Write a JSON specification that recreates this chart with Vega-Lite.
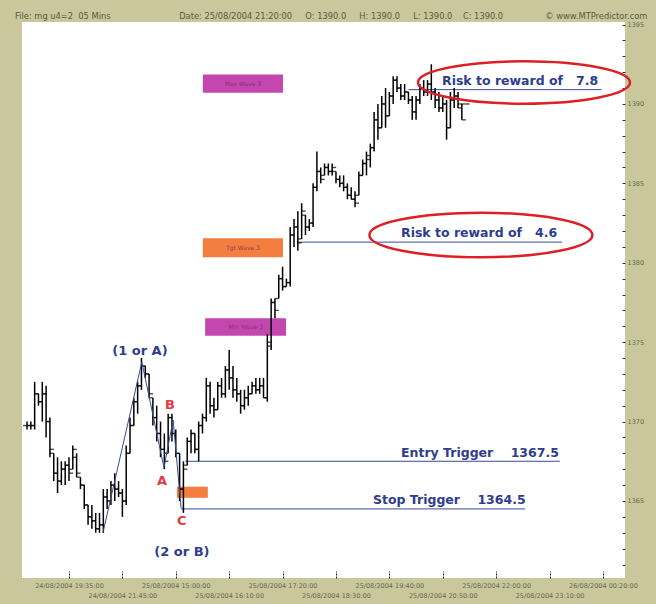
{
  "$schema": "https://vega.github.io/schema/vega-lite/v6.json",
  "width": 603,
  "height": 556,
  "autosize": {"type": "none"},
  "padding": {"left": 22, "top": 22, "right": 31, "bottom": 26},
  "background": "#cac79c",
  "view": {"fill": "white", "stroke": null},
  "title": {
    "text": "File: mg u4=2\u00a0\u00a005 Mins\u00a0\u00a0\u00a0\u00a0\u00a0\u00a0\u00a0\u00a0\u00a0\u00a0\u00a0\u00a0\u00a0\u00a0\u00a0\u00a0\u00a0\u00a0\u00a0\u00a0\u00a0\u00a0\u00a0\u00a0\u00a0\u00a0Date: 25/08/2004 21:20:00\u00a0\u00a0\u00a0\u00a0\u00a0O: 1390.0\u00a0\u00a0\u00a0\u00a0\u00a0H: 1390.0\u00a0\u00a0\u00a0\u00a0\u00a0L: 1390.0\u00a0\u00a0\u00a0\u00a0C: 1390.0\u00a0\u00a0\u00a0\u00a0\u00a0\u00a0\u00a0\u00a0\u00a0\u00a0\u00a0\u00a0\u00a0\u00a0\u00a0\u00a0© www.MTPredictor.com",
    "anchor": "start", "fontSize": 8.3, "font": "DejaVu Sans", "fontWeight": "normal",
    "color": "#5a5a40", "offset": 1, "dx": -7
  },
  "config": {"font": "DejaVu Sans", "axis": {"title": null}},
  "resolve": {"scale": {"color": "independent"}},
  "datasets": {
    "bars": [
      {"k": -11, "o": 1369.75, "h": 1370.0, "l": 1369.5, "c": 1369.75},
      {"k": -10, "o": 1369.75, "h": 1370.0, "l": 1369.5, "c": 1369.75},
      {"k": -9, "o": 1369.75, "h": 1372.5, "l": 1369.5, "c": 1371.75},
      {"k": -8, "o": 1371.75, "h": 1371.75, "l": 1371.0, "c": 1371.25},
      {"k": -7, "o": 1371.25, "h": 1372.5, "l": 1370.0, "c": 1371.75},
      {"k": -6, "o": 1371.75, "h": 1372.25, "l": 1369.0, "c": 1370.0},
      {"k": -5, "o": 1370.0, "h": 1370.25, "l": 1367.75, "c": 1368.25},
      {"k": -4, "o": 1368.0, "h": 1368.0, "l": 1366.25, "c": 1366.75},
      {"k": -3, "o": 1366.75, "h": 1367.75, "l": 1365.5, "c": 1366.25},
      {"k": -2, "o": 1366.25, "h": 1367.5, "l": 1366.0, "c": 1367.0},
      {"k": -1, "o": 1367.0, "h": 1367.5, "l": 1366.0, "c": 1367.25},
      {"k": 0, "o": 1367.25, "h": 1367.75, "l": 1366.25, "c": 1366.75},
      {"k": 1, "o": 1367.0, "h": 1368.5, "l": 1367.0, "c": 1368.25},
      {"k": 2, "o": 1367.75, "h": 1368.0, "l": 1366.5, "c": 1366.75},
      {"k": 3, "o": 1366.5, "h": 1366.5, "l": 1365.75, "c": 1366.0},
      {"k": 4, "o": 1366.0, "h": 1366.0, "l": 1364.5, "c": 1364.75},
      {"k": 5, "o": 1364.75, "h": 1364.75, "l": 1363.5, "c": 1364.0},
      {"k": 6, "o": 1364.0, "h": 1364.75, "l": 1363.25, "c": 1363.75},
      {"k": 7, "o": 1363.75, "h": 1364.25, "l": 1363.0, "c": 1363.25},
      {"k": 8, "o": 1363.25, "h": 1364.25, "l": 1363.0, "c": 1363.5},
      {"k": 9, "o": 1363.5, "h": 1365.75, "l": 1363.0, "c": 1365.25},
      {"k": 10, "o": 1365.25, "h": 1365.75, "l": 1364.5, "c": 1365.0},
      {"k": 11, "o": 1365.0, "h": 1366.25, "l": 1364.75, "c": 1366.0},
      {"k": 12, "o": 1366.0, "h": 1366.75, "l": 1365.0, "c": 1365.75},
      {"k": 13, "o": 1365.75, "h": 1366.25, "l": 1365.25, "c": 1365.5},
      {"k": 14, "o": 1365.5, "h": 1365.75, "l": 1364.0, "c": 1365.0},
      {"k": 15, "o": 1365.0, "h": 1368.5, "l": 1364.75, "c": 1368.0},
      {"k": 16, "o": 1368.0, "h": 1370.25, "l": 1368.0, "c": 1369.75},
      {"k": 17, "o": 1369.75, "h": 1371.5, "l": 1369.75, "c": 1371.25},
      {"k": 18, "o": 1371.25, "h": 1372.5, "l": 1370.5, "c": 1372.25},
      {"k": 19, "o": 1372.25, "h": 1374.0, "l": 1372.0, "c": 1373.5},
      {"k": 20, "o": 1373.5, "h": 1373.5, "l": 1372.75, "c": 1373.0},
      {"k": 21, "o": 1373.0, "h": 1373.0, "l": 1371.5, "c": 1371.75},
      {"k": 22, "o": 1371.5, "h": 1371.5, "l": 1369.75, "c": 1370.25},
      {"k": 23, "o": 1370.25, "h": 1371.0, "l": 1368.75, "c": 1369.25},
      {"k": 24, "o": 1369.25, "h": 1370.0, "l": 1367.75, "c": 1368.25},
      {"k": 25, "o": 1368.25, "h": 1369.25, "l": 1367.0, "c": 1367.5},
      {"k": 26, "o": 1368.0, "h": 1370.5, "l": 1368.0, "c": 1370.25},
      {"k": 27, "o": 1370.25, "h": 1370.5, "l": 1368.75, "c": 1369.25},
      {"k": 28, "o": 1369.25, "h": 1369.5, "l": 1367.75, "c": 1368.0},
      {"k": 29, "o": 1368.0, "h": 1368.0, "l": 1365.0, "c": 1365.75},
      {"k": 30, "o": 1365.75, "h": 1367.5, "l": 1364.25, "c": 1367.0},
      {"k": 31, "o": 1367.25, "h": 1369.0, "l": 1367.25, "c": 1368.75},
      {"k": 32, "o": 1368.75, "h": 1369.5, "l": 1368.0, "c": 1369.25},
      {"k": 33, "o": 1369.25, "h": 1369.25, "l": 1368.0, "c": 1368.25},
      {"k": 34, "o": 1368.25, "h": 1370.0, "l": 1367.5, "c": 1369.75},
      {"k": 35, "o": 1369.75, "h": 1370.5, "l": 1369.25, "c": 1370.25},
      {"k": 36, "o": 1370.25, "h": 1372.75, "l": 1370.0, "c": 1372.25},
      {"k": 37, "o": 1372.25, "h": 1372.5, "l": 1370.5, "c": 1371.0},
      {"k": 38, "o": 1371.0, "h": 1371.5, "l": 1370.25, "c": 1370.75},
      {"k": 39, "o": 1370.75, "h": 1372.5, "l": 1370.75, "c": 1372.25},
      {"k": 40, "o": 1372.25, "h": 1372.75, "l": 1371.5, "c": 1371.75},
      {"k": 41, "o": 1371.75, "h": 1373.5, "l": 1371.5, "c": 1373.25},
      {"k": 42, "o": 1373.25, "h": 1374.5, "l": 1372.0, "c": 1372.75},
      {"k": 43, "o": 1372.75, "h": 1373.5, "l": 1371.5, "c": 1372.0},
      {"k": 44, "o": 1372.0, "h": 1372.75, "l": 1371.25, "c": 1371.75},
      {"k": 45, "o": 1371.75, "h": 1372.0, "l": 1370.5, "c": 1371.0},
      {"k": 46, "o": 1371.0, "h": 1372.0, "l": 1370.75, "c": 1371.5},
      {"k": 47, "o": 1371.5, "h": 1372.25, "l": 1371.0, "c": 1371.75},
      {"k": 48, "o": 1371.75, "h": 1372.5, "l": 1371.75, "c": 1372.25},
      {"k": 49, "o": 1372.25, "h": 1372.75, "l": 1371.75, "c": 1372.0},
      {"k": 50, "o": 1372.0, "h": 1372.75, "l": 1371.75, "c": 1372.25},
      {"k": 51, "o": 1372.25, "h": 1372.75, "l": 1371.5, "c": 1371.5},
      {"k": 52, "o": 1371.5, "h": 1375.5, "l": 1371.25, "c": 1375.0},
      {"k": 53, "o": 1374.75, "h": 1377.75, "l": 1374.5, "c": 1377.5},
      {"k": 54, "o": 1377.5, "h": 1377.75, "l": 1376.5, "c": 1377.0},
      {"k": 55, "o": 1377.75, "h": 1379.25, "l": 1377.75, "c": 1379.0},
      {"k": 56, "o": 1379.0, "h": 1379.75, "l": 1378.25, "c": 1378.5},
      {"k": 57, "o": 1378.5, "h": 1379.0, "l": 1378.5, "c": 1378.75},
      {"k": 58, "o": 1378.75, "h": 1382.25, "l": 1378.5, "c": 1381.75},
      {"k": 59, "o": 1381.75, "h": 1382.75, "l": 1381.0, "c": 1382.25},
      {"k": 60, "o": 1382.25, "h": 1383.25, "l": 1380.75, "c": 1381.25},
      {"k": 61, "o": 1381.5, "h": 1383.75, "l": 1381.5, "c": 1383.25},
      {"k": 62, "o": 1383.0, "h": 1383.0, "l": 1381.75, "c": 1382.25},
      {"k": 63, "o": 1382.25, "h": 1382.75, "l": 1382.0, "c": 1382.5},
      {"k": 64, "o": 1382.5, "h": 1385.0, "l": 1382.25, "c": 1384.75},
      {"k": 65, "o": 1384.75, "h": 1387.0, "l": 1384.5, "c": 1385.75},
      {"k": 66, "o": 1385.75, "h": 1386.0, "l": 1385.0, "c": 1385.25},
      {"k": 67, "o": 1385.5, "h": 1386.25, "l": 1385.5, "c": 1386.0},
      {"k": 68, "o": 1386.0, "h": 1386.25, "l": 1385.5, "c": 1385.75},
      {"k": 69, "o": 1385.75, "h": 1386.25, "l": 1385.5, "c": 1386.0},
      {"k": 70, "o": 1385.75, "h": 1385.75, "l": 1385.0, "c": 1385.25},
      {"k": 71, "o": 1385.25, "h": 1385.5, "l": 1384.75, "c": 1385.0},
      {"k": 72, "o": 1385.0, "h": 1385.5, "l": 1384.5, "c": 1384.75},
      {"k": 73, "o": 1384.75, "h": 1385.0, "l": 1384.0, "c": 1384.25},
      {"k": 74, "o": 1384.25, "h": 1384.75, "l": 1384.0, "c": 1384.0},
      {"k": 75, "o": 1384.0, "h": 1384.5, "l": 1383.5, "c": 1383.75},
      {"k": 76, "o": 1384.25, "h": 1385.75, "l": 1384.25, "c": 1385.5},
      {"k": 77, "o": 1385.5, "h": 1386.5, "l": 1385.5, "c": 1386.25},
      {"k": 78, "o": 1386.25, "h": 1387.0, "l": 1385.5, "c": 1386.75},
      {"k": 79, "o": 1386.5, "h": 1387.5, "l": 1386.0, "c": 1387.25},
      {"k": 80, "o": 1387.25, "h": 1389.5, "l": 1387.0, "c": 1389.0},
      {"k": 81, "o": 1389.0, "h": 1390.0, "l": 1387.75, "c": 1388.5},
      {"k": 82, "o": 1388.5, "h": 1390.5, "l": 1388.5, "c": 1390.0},
      {"k": 83, "o": 1390.0, "h": 1391.0, "l": 1388.5, "c": 1389.25},
      {"k": 84, "o": 1389.25, "h": 1390.75, "l": 1389.25, "c": 1390.5},
      {"k": 85, "o": 1390.5, "h": 1391.75, "l": 1390.0, "c": 1391.5},
      {"k": 86, "o": 1391.5, "h": 1391.75, "l": 1390.75, "c": 1391.0},
      {"k": 87, "o": 1391.0, "h": 1391.25, "l": 1390.25, "c": 1390.5},
      {"k": 88, "o": 1390.5, "h": 1391.25, "l": 1390.25, "c": 1390.75},
      {"k": 89, "o": 1390.75, "h": 1390.75, "l": 1390.0, "c": 1390.25},
      {"k": 90, "o": 1390.25, "h": 1390.5, "l": 1389.0, "c": 1389.5},
      {"k": 91, "o": 1389.5, "h": 1390.5, "l": 1389.0, "c": 1390.25},
      {"k": 92, "o": 1390.25, "h": 1391.25, "l": 1390.0, "c": 1391.0},
      {"k": 93, "o": 1391.0, "h": 1391.5, "l": 1390.5, "c": 1390.75},
      {"k": 94, "o": 1390.75, "h": 1391.5, "l": 1390.5, "c": 1391.25},
      {"k": 95, "o": 1391.25, "h": 1392.5, "l": 1390.25, "c": 1390.75},
      {"k": 96, "o": 1390.75, "h": 1391.0, "l": 1389.75, "c": 1390.25},
      {"k": 97, "o": 1390.25, "h": 1390.75, "l": 1389.5, "c": 1389.75},
      {"k": 98, "o": 1389.75, "h": 1390.5, "l": 1389.5, "c": 1390.0},
      {"k": 99, "o": 1390.0, "h": 1390.25, "l": 1387.75, "c": 1388.5},
      {"k": 100, "o": 1388.5, "h": 1390.75, "l": 1388.5, "c": 1390.25},
      {"k": 101, "o": 1390.25, "h": 1391.0, "l": 1389.75, "c": 1390.5},
      {"k": 102, "o": 1390.5, "h": 1390.75, "l": 1389.75, "c": 1390.0},
      {"k": 103, "o": 1389.75, "h": 1390.0, "l": 1389.0, "c": 1389.0},
      {"k": 104, "o": 1390.0, "h": 1390.0, "l": 1390.0, "c": 1390.0}
    ],
    "levels": [
      {"name": "entry", "k1": 30.5, "k2": 128.7, "p": 1367.5},
      {"name": "stop", "k1": 29.3, "k2": 119.6, "p": 1364.5},
      {"name": "rr46", "k1": 59.7, "k2": 129.3, "p": 1381.3},
      {"name": "rr78", "k1": 89, "k2": 139.6, "p": 1390.9}
    ],
    "wave": [
      {"i": 0, "k": 8.9, "p": 1363.0},
      {"i": 1, "k": 19.1, "p": 1373.75},
      {"i": 2, "k": 24.9, "p": 1367.1},
      {"i": 3, "k": 27.3, "p": 1370.1},
      {"i": 4, "k": 29.4, "p": 1364.55}
    ],
    "boxes": [
      {"kind": "max", "k1": 35.1, "k2": 56.1, "p1": 1390.7, "p2": 1391.85, "tk": 45.6, "tp": 1391.27, "text": "Max Wave 3"},
      {"kind": "tgt", "k1": 35.1, "k2": 56.1, "p1": 1380.35, "p2": 1381.55, "tk": 45.6, "tp": 1380.95, "text": "Tgt Wave 3"},
      {"kind": "max", "k1": 35.7, "k2": 56.9, "p1": 1375.4, "p2": 1376.5, "tk": 46.3, "tp": 1375.95, "text": "Min Wave 3"},
      {"kind": "tgt", "k1": 28.3, "k2": 36.4, "p1": 1365.2, "p2": 1365.9, "tk": 32.3, "tp": 1365.55, "text": ""}
    ],
    "marks": [
      {"kind": "wave", "k": 18.6, "p": 1374.45, "text": "(1 or A)"},
      {"kind": "wave", "k": 29.6, "p": 1361.8, "text": "(2 or B)"},
      {"kind": "letter", "k": 26.5, "p": 1371.05, "text": "B"},
      {"kind": "letter", "k": 24.4, "p": 1366.26, "text": "A"},
      {"kind": "letter", "k": 29.6, "p": 1363.74, "text": "C"}
    ],
    "notes": [
      {"k": 87.05, "p": 1368.02, "text": "Entry Trigger\u00a0\u00a0\u00a0\u00a01367.5"},
      {"k": 79.7, "p": 1365.06, "text": "Stop Trigger\u00a0\u00a0\u00a0\u00a01364.5"},
      {"k": 87.05, "p": 1381.88, "text": "Risk to reward of\u00a0\u00a0\u00a04.6"},
      {"k": 97.8, "p": 1391.45, "text": "Risk to reward of\u00a0\u00a0\u00a07.8"}
    ],
    "rings": [
      {"name": "rr78", "k": 119.3, "p": 1391.35},
      {"name": "rr46", "k": 108.0, "p": 1381.75}
    ]
  },
  "layer": [
    {
      "data": {"name": "boxes"},
      "mark": {"type": "rect"},
      "encoding": {
        "x": {"field": "k1", "type": "quantitative", "scale": {"domain": [-12.32, 145.78], "nice": false, "zero": false},
          "axis": {"orient": "bottom", "values": [0, 14, 28, 42, 56, 70, 84, 98, 112, 126, 140], "tickCount": 100,
            "labelExpr": "(round(datum.value/14) % 2 == 0) ? ['24/08/2004 19:35:00','24/08/2004 21:45:00','25/08/2004 15:00:00','25/08/2004 16:10:00','25/08/2004 17:20:00','25/08/2004 18:30:00','25/08/2004 19:40:00','25/08/2004 20:50:00','25/08/2004 22:00:00','25/08/2004 23:10:00','26/08/2004 00:20:00'][round(datum.value/14)] : ['', ['24/08/2004 19:35:00','24/08/2004 21:45:00','25/08/2004 15:00:00','25/08/2004 16:10:00','25/08/2004 17:20:00','25/08/2004 18:30:00','25/08/2004 19:40:00','25/08/2004 20:50:00','25/08/2004 22:00:00','25/08/2004 23:10:00','26/08/2004 00:20:00'][round(datum.value/14)]]",
            "title": null, "grid": false, "domain": false, "tickSize": -7, "tickColor": "#222222", "tickDash": [2, 1], "tickWidth": 1,
            "labelFontSize": 6.5, "labelColor": "#67674c", "labelPadding": 11, "labelLineHeight": 10, "labelBaseline": "top", "labelOverlap": false, "labelFlush": false}},
        "x2": {"field": "k2"},
        "y": {"field": "p1", "type": "quantitative", "scale": {"domain": [1360.15, 1395.16], "nice": false, "zero": false},
          "axis": {"orient": "right", "values": [1361,1362,1363,1364,1365,1366,1367,1368,1369,1370,1371,1372,1373,1374,1375,1376,1377,1378,1379,1380,1381,1382,1383,1384,1385,1386,1387,1388,1389,1390,1391,1392,1393,1394,1395], "tickCount": 100,
            "labelExpr": "datum.value % 5 == 0 ? format(datum.value, 'd') : ''",
            "title": null, "grid": false, "domain": false, "tickSize": -3, "tickColor": "#333333", "tickWidth": 1,
            "labelFontSize": 6.5, "labelColor": "#67674c", "labelPadding": 5, "labelOverlap": false, "labelFlush": false}},
        "y2": {"field": "p2"},
        "color": {"field": "kind", "type": "nominal", "scale": {"domain": ["max", "tgt"], "range": ["#c447b0", "#f37e3f"]}, "legend": null}
      }
    },
    {
      "data": {"name": "boxes"},
      "mark": {"type": "text", "fontSize": 6, "color": "#7a3068", "opacity": 0.8},
      "encoding": {
        "x": {"field": "tk", "type": "quantitative"},
        "y": {"field": "tp", "type": "quantitative"},
        "text": {"field": "text"}
      }
    },
    {
      "data": {"name": "levels"},
      "mark": {"type": "rule", "color": "#3a4896", "strokeWidth": 1},
      "encoding": {
        "x": {"field": "k1", "type": "quantitative"},
        "x2": {"field": "k2"},
        "y": {"field": "p", "type": "quantitative"}
      }
    },
    {
      "data": {"name": "bars"},
      "mark": {"type": "rule", "color": "#000000", "strokeWidth": 1.5},
      "encoding": {
        "x": {"field": "k", "type": "quantitative"},
        "y": {"field": "l", "type": "quantitative"},
        "y2": {"field": "h"}
      }
    },
    {
      "data": {"name": "bars"},
      "mark": {"type": "tick", "orient": "horizontal", "color": "#000000", "size": 4, "thickness": 1.4, "xOffset": -2},
      "encoding": {
        "x": {"field": "k", "type": "quantitative"},
        "y": {"field": "o", "type": "quantitative"}
      }
    },
    {
      "data": {"name": "bars"},
      "mark": {"type": "tick", "orient": "horizontal", "color": "#000000", "size": 4, "thickness": 1.4, "xOffset": 2},
      "encoding": {
        "x": {"field": "k", "type": "quantitative"},
        "y": {"field": "c", "type": "quantitative"}
      }
    },
    {
      "data": {"name": "wave"},
      "mark": {"type": "line", "color": "#3a4896", "strokeWidth": 1},
      "encoding": {
        "x": {"field": "k", "type": "quantitative"},
        "y": {"field": "p", "type": "quantitative"},
        "order": {"field": "i"}
      }
    },
    {
      "data": {"name": "marks"},
      "mark": {"type": "text", "fontSize": 13, "fontWeight": "bold", "baseline": "middle", "align": "center"},
      "encoding": {
        "x": {"field": "k", "type": "quantitative"},
        "y": {"field": "p", "type": "quantitative"},
        "text": {"field": "text"},
        "color": {"field": "kind", "type": "nominal", "scale": {"domain": ["wave", "letter"], "range": ["#2e3d8e", "#e23a3f"]}, "legend": null}
      }
    },
    {
      "data": {"name": "notes"},
      "mark": {"type": "text", "fontSize": 12.5, "fontWeight": "bold", "baseline": "middle", "align": "left", "color": "#2e3d8e"},
      "encoding": {
        "x": {"field": "k", "type": "quantitative"},
        "y": {"field": "p", "type": "quantitative"},
        "text": {"field": "text"}
      }
    },
    {
      "data": {"name": "rings"},
      "transform": [{"filter": "datum.name == 'rr78'"}],
      "mark": {"type": "point", "shape": "M -1 0 A 1 0.2 0 1 1 1 0 A 1 0.2 0 1 1 -1 0 Z", "filled": false, "color": "#dd1f26", "strokeWidth": 2.5, "size": 44944, "opacity": 1},
      "encoding": {
        "x": {"field": "k", "type": "quantitative"},
        "y": {"field": "p", "type": "quantitative"}
      }
    },
    {
      "data": {"name": "rings"},
      "transform": [{"filter": "datum.name == 'rr46'"}],
      "mark": {"type": "point", "shape": "M -1 0 A 1 0.2 0 1 1 1 0 A 1 0.2 0 1 1 -1 0 Z", "filled": false, "color": "#dd1f26", "strokeWidth": 2.5, "size": 49729, "opacity": 1},
      "encoding": {
        "x": {"field": "k", "type": "quantitative"},
        "y": {"field": "p", "type": "quantitative"}
      }
    }
  ]
}
